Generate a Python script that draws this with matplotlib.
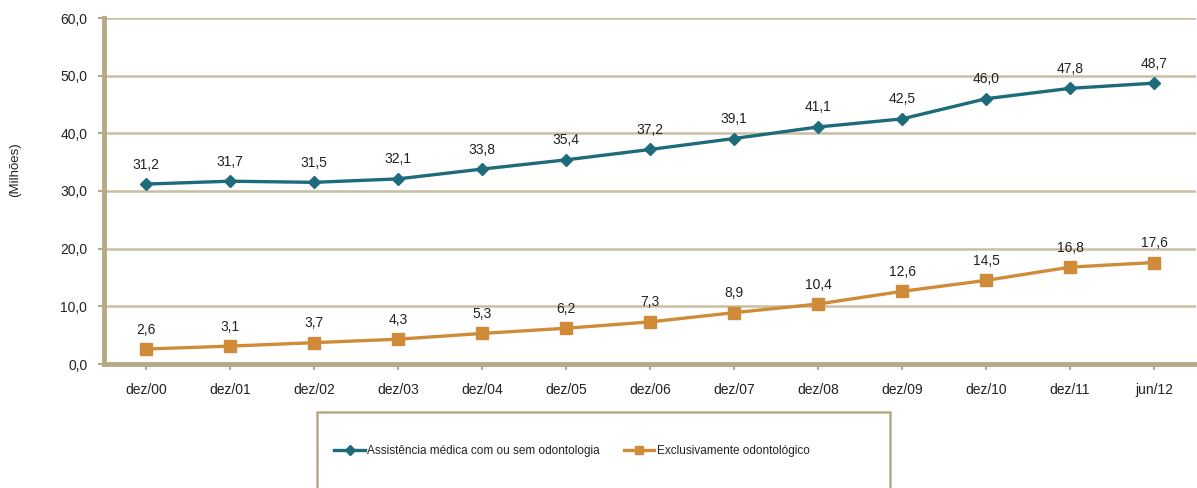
import matplotlib
matplotlib.use("Agg")
import matplotlib.pyplot as plt
from matplotlib.patches import Rectangle

plt.rcParams['font.family'] = ['Liberation Sans', 'DejaVu Sans']

periods = ["dez/00", "dez/01", "dez/02", "dez/03", "dez/04", "dez/05", "dez/06",
           "dez/07", "dez/08", "dez/09", "dez/10", "dez/11", "jun/12"]
medica = [31.2, 31.7, 31.5, 32.1, 33.8, 35.4, 37.2, 39.1, 41.1, 42.5, 46.0, 47.8, 48.7]
odonto = [2.6, 3.1, 3.7, 4.3, 5.3, 6.2, 7.3, 8.9, 10.4, 12.6, 14.5, 16.8, 17.6]
y_ticks = [0, 10, 20, 30, 40, 50, 60]

teal = "#1E6B7B"
orange = "#D08B38"
tan = "#B5A988"
grid_tan = "#C8BEA3"
text_col = "#222222"

fig = plt.figure(figsize=(11.97, 4.88), dpi=100)
ax = fig.add_axes([104/1197, 1-364/488, 1092/1197, 346/488])

x = list(range(len(periods)))
ax.plot(x, medica, color=teal, lw=2.4, marker="D", ms=6.5, mec=teal, mfc=teal,
        label="Assistência médica com ou sem odontologia", zorder=3)
ax.plot(x, odonto, color=orange, lw=2.4, marker="s", ms=8, mec=orange, mfc=orange,
        label="Exclusivamente odontológico", zorder=3)

fmt = lambda v: f"{v:.1f}".replace(".", ",")
for xi, v in zip(x, medica):
    ax.annotate(fmt(v), (xi, v), xytext=(0, 9), textcoords="offset points",
                ha="center", va="bottom", fontsize=10, color=text_col)
for xi, v in zip(x, odonto):
    ax.annotate(fmt(v), (xi, v), xytext=(0, 9), textcoords="offset points",
                ha="center", va="bottom", fontsize=10, color=text_col)

ax.set_xlim(-0.5, len(periods) - 0.5)
ax.set_ylim(0, 60)
ax.set_yticks(y_ticks)
ax.set_yticklabels([fmt(v) for v in y_ticks])
ax.set_xticks(x)
ax.set_xticklabels(periods)
ax.tick_params(axis="both", labelsize=10, colors=tan, labelcolor=text_col,
               length=4, width=1.5)
ax.tick_params(axis="y", pad=8)
ax.tick_params(axis="x", pad=10)

ax.grid(axis="y", color=grid_tan, lw=1.8, zorder=0)
ax.set_axisbelow(True)
for side in ("top", "right"):
    ax.spines[side].set_visible(False)
for side in ("left", "bottom"):
    ax.spines[side].set_color(tan)
    ax.spines[side].set_linewidth(3.5)

fig.text(15/1197, 1-170/488, "(Milhões)", rotation=90, ha="center", va="center",
         fontsize=9.5, color=text_col)

# legend frame
fig.patches.append(Rectangle((317/1197, -0.02), 573/1197, 0.02 + 1-412/488,
                             transform=fig.transFigure, fill=False,
                             edgecolor=tan, lw=1.8))
handles, labels = ax.get_legend_handles_labels()
leg = fig.legend(handles, labels, loc="center", bbox_to_anchor=(572/1197, 1-451/488),
                 ncol=2, frameon=False, fontsize=8.5, handlelength=2.6,
                 handletextpad=0.2, columnspacing=2.0, markerscale=0.8)
for t in leg.get_texts():
    t.set_color(text_col)

fig.savefig("out.png", dpi=100)
